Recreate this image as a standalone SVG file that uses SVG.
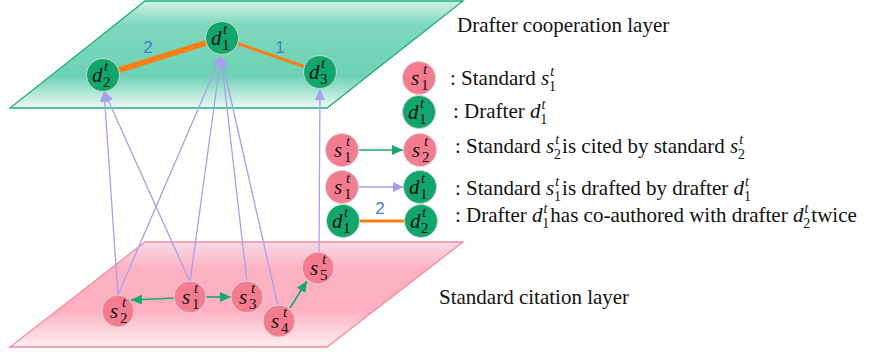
<svg xmlns="http://www.w3.org/2000/svg" width="870" height="356" viewBox="0 0 870 356">
  <defs>
    <linearGradient id="gTop" x1="0" y1="0" x2="0" y2="1">
      <stop offset="0" stop-color="#d4f1e7"/>
      <stop offset="0.22" stop-color="#80d8be"/>
      <stop offset="0.7" stop-color="#6cd2b3"/>
      <stop offset="1" stop-color="#eef9f5"/>
    </linearGradient>
    <linearGradient id="gBot" x1="0" y1="0" x2="0" y2="1">
      <stop offset="0" stop-color="#f6dbe5"/>
      <stop offset="0.25" stop-color="#fcb2c3"/>
      <stop offset="0.65" stop-color="#fcb0c1"/>
      <stop offset="1" stop-color="#fdf0f3"/>
    </linearGradient>
    <marker id="arrG" markerUnits="userSpaceOnUse" markerWidth="11" markerHeight="10" refX="11" refY="5" orient="auto">
      <path d="M0,0 L11,5 L0,10 z" fill="#17a86b"/>
    </marker>
    <marker id="arrP" markerUnits="userSpaceOnUse" markerWidth="11" markerHeight="10" refX="11" refY="5" orient="auto">
      <path d="M0,0 L11,5 L0,10 z" fill="#a6a0ec"/>
    </marker>
    <style>
      .sn { fill: #f47c90; stroke: #e0d0d4; stroke-width: 1; }
      .dn { fill: #10a66c; stroke: #c8d8d0; stroke-width: 1; }
      .lt { font-family: "Liberation Serif", serif; font-style: italic; font-size: 21px; fill: #111; }
      .ls { font-family: "Liberation Serif", serif; font-style: italic; font-size: 15px; fill: #111; }
      .ln { font-family: "Liberation Serif", serif; font-size: 15px; fill: #111; }
      .txt { font-family: "Liberation Serif", serif; font-size: 21px; fill: #111; }
      .mi { font-style: italic; }
      .sm { font-size: 14px; }
      .num { font-family: "Liberation Sans", sans-serif; font-size: 17px; fill: #3d7fd6; }
      .cite { stroke: #17a86b; stroke-width: 1.6; fill: none; marker-end: url(#arrG); }
      .draft { stroke: #a6a0ec; stroke-width: 1.3; fill: none; marker-end: url(#arrP); }
      .coop { stroke: #fb7f14; fill: none; }
    </style>
  </defs>

  <rect width="870" height="356" fill="#ffffff"/>

  <!-- layers -->
  <g id="layer-standard">
    <polygon points="145,242 463,242 327,347 10,347" fill="url(#gBot)" stroke="#f7889d" stroke-width="1.3"/>
    <text class="txt" x="439" y="304">Standard citation layer</text>
  </g>
  <g id="layer-drafter">
    <polygon points="145,1 463,1 327,108 10,108" fill="url(#gTop)" stroke="#1fae7d" stroke-width="1.3"/>
    <text class="txt" x="457" y="32">Drafter cooperation layer</text>
  </g>

  <!-- connectors -->
  <g id="connectors">
    <line class="coop" x1="103" y1="75" x2="222" y2="38" stroke-width="6"/>
    <line class="coop" x1="222" y1="38" x2="320" y2="72" stroke-width="3"/>
    <text class="num" x="148" y="53" text-anchor="middle">2</text>
    <text class="num" x="280" y="53" text-anchor="middle">1</text>

    <line class="draft" x1="118" y1="295" x2="104" y2="91"/>
    <line class="draft" x1="190" y1="282" x2="104" y2="91"/>
    <line class="draft" x1="118" y1="295" x2="221" y2="56"/>
    <line class="draft" x1="190" y1="282" x2="221" y2="56"/>
    <line class="draft" x1="247" y1="282" x2="221" y2="56"/>
    <line class="draft" x1="278" y1="306" x2="221" y2="56"/>
    <line class="draft" x1="319" y1="252" x2="320" y2="89"/>

    <line class="cite" x1="175" y1="298" x2="131" y2="300"/>
    <line class="cite" x1="206" y1="297" x2="231" y2="297"/>
    <line class="cite" x1="290" y1="308" x2="307" y2="281"/>
  </g>

  <!-- drafter nodes -->
  <g id="d1">
    <circle class="dn" cx="222" cy="38" r="16.5"/>
    <text class="lt" x="211" y="45">d</text><text class="ls" x="223" y="34">t</text><text class="ln" x="222" y="50">1</text>
  </g>
  <g id="d2">
    <circle class="dn" cx="103" cy="75" r="16.5"/>
    <text class="lt" x="92" y="82">d</text><text class="ls" x="104" y="71">t</text><text class="ln" x="103" y="87">2</text>
  </g>
  <g id="d3">
    <circle class="dn" cx="320" cy="72" r="16.5"/>
    <text class="lt" x="309" y="79">d</text><text class="ls" x="321" y="68">t</text><text class="ln" x="320" y="84">3</text>
  </g>

  <!-- standard nodes -->
  <g id="s1">
    <circle class="sn" cx="190" cy="297" r="16"/>
    <text class="lt" x="182" y="304">s</text><text class="ls" x="194" y="293">t</text><text class="ln" x="192" y="309">1</text>
  </g>
  <g id="s2">
    <circle class="sn" cx="118" cy="311" r="16"/>
    <text class="lt" x="110" y="318">s</text><text class="ls" x="122" y="307">t</text><text class="ln" x="120" y="323">2</text>
  </g>
  <g id="s3">
    <circle class="sn" cx="247" cy="297" r="16"/>
    <text class="lt" x="239" y="304">s</text><text class="ls" x="251" y="293">t</text><text class="ln" x="249" y="309">3</text>
  </g>
  <g id="s4">
    <circle class="sn" cx="279" cy="321" r="16"/>
    <text class="lt" x="271" y="328">s</text><text class="ls" x="283" y="317">t</text><text class="ln" x="281" y="333">4</text>
  </g>
  <g id="s5">
    <circle class="sn" cx="318" cy="268" r="16"/>
    <text class="lt" x="310" y="275">s</text><text class="ls" x="322" y="264">t</text><text class="ln" x="320" y="280">5</text>
  </g>

  <!-- legend -->
  <g id="legend-standard">
    <circle class="sn" cx="419" cy="78" r="16.5"/>
    <text class="lt" x="411" y="85">s</text><text class="ls" x="423" y="74">t</text><text class="ln" x="421" y="90">1</text>
    <text class="txt" x="450" y="85">: Standard <tspan class="mi">s</tspan><tspan class="mi sm" dx="1" dy="-9">t</tspan><tspan class="sm" dx="-5" dy="15">1</tspan></text>
  </g>
  <g id="legend-drafter">
    <circle class="dn" cx="419" cy="112" r="16.5"/>
    <text class="lt" x="408" y="119">d</text><text class="ls" x="420" y="108">t</text><text class="ln" x="419" y="124">1</text>
    <text class="txt" x="453" y="118">: Drafter <tspan class="mi">d</tspan><tspan class="mi sm" dx="1" dy="-9">t</tspan><tspan class="sm" dx="-5" dy="15">1</tspan></text>
  </g>
  <g id="legend-cite">
    <circle class="sn" cx="342" cy="150" r="16.5"/>
    <text class="lt" x="334" y="157">s</text><text class="ls" x="346" y="146">t</text><text class="ln" x="344" y="162">1</text>
    <circle class="sn" cx="420" cy="150" r="16.5"/>
    <text class="lt" x="412" y="157">s</text><text class="ls" x="424" y="146">t</text><text class="ln" x="422" y="162">2</text>
    <line class="cite" x1="359" y1="150" x2="403" y2="150"/>
    <text class="txt" x="455" y="153">: Standard <tspan class="mi">s</tspan><tspan class="mi sm" dx="1" dy="-9">t</tspan><tspan class="sm" dx="-5" dy="15">2</tspan><tspan dx="1" dy="-6">is cited by standard </tspan><tspan class="mi">s</tspan><tspan class="mi sm" dx="1" dy="-9">t</tspan><tspan class="sm" dx="-5" dy="15">2</tspan></text>
  </g>
  <g id="legend-draft">
    <circle class="sn" cx="342" cy="187" r="16.5"/>
    <text class="lt" x="334" y="194">s</text><text class="ls" x="346" y="183">t</text><text class="ln" x="344" y="199">1</text>
    <circle class="dn" cx="420" cy="187" r="16.5"/>
    <text class="lt" x="409" y="194">d</text><text class="ls" x="421" y="183">t</text><text class="ln" x="420" y="199">1</text>
    <line class="draft" x1="359" y1="187" x2="404" y2="187"/>
    <text class="txt" x="455" y="195">: Standard <tspan class="mi">s</tspan><tspan class="mi sm" dx="1" dy="-9">t</tspan><tspan class="sm" dx="-5" dy="15">1</tspan><tspan dx="1" dy="-6">is drafted by drafter </tspan><tspan class="mi">d</tspan><tspan class="mi sm" dx="1" dy="-9">t</tspan><tspan class="sm" dx="-5" dy="15">1</tspan></text>
  </g>
  <g id="legend-coop">
    <line class="coop" x1="343" y1="221" x2="421" y2="221" stroke-width="3"/>
    <text class="num" x="380" y="214" text-anchor="middle">2</text>
    <circle class="dn" cx="343" cy="221" r="16.5"/>
    <text class="lt" x="332" y="228">d</text><text class="ls" x="344" y="217">t</text><text class="ln" x="343" y="233">1</text>
    <circle class="dn" cx="421" cy="221" r="16.5"/>
    <text class="lt" x="410" y="228">d</text><text class="ls" x="422" y="217">t</text><text class="ln" x="421" y="233">2</text>
    <text class="txt" x="455" y="222">: Drafter <tspan class="mi">d</tspan><tspan class="mi sm" dx="1" dy="-9">t</tspan><tspan class="sm" dx="-5" dy="15">1</tspan><tspan dx="1" dy="-6">has co-authored with drafter </tspan><tspan class="mi">d</tspan><tspan class="mi sm" dx="1" dy="-9">t</tspan><tspan class="sm" dx="-5" dy="15">2</tspan><tspan dx="1" dy="-6">twice</tspan></text>
  </g>
</svg>
